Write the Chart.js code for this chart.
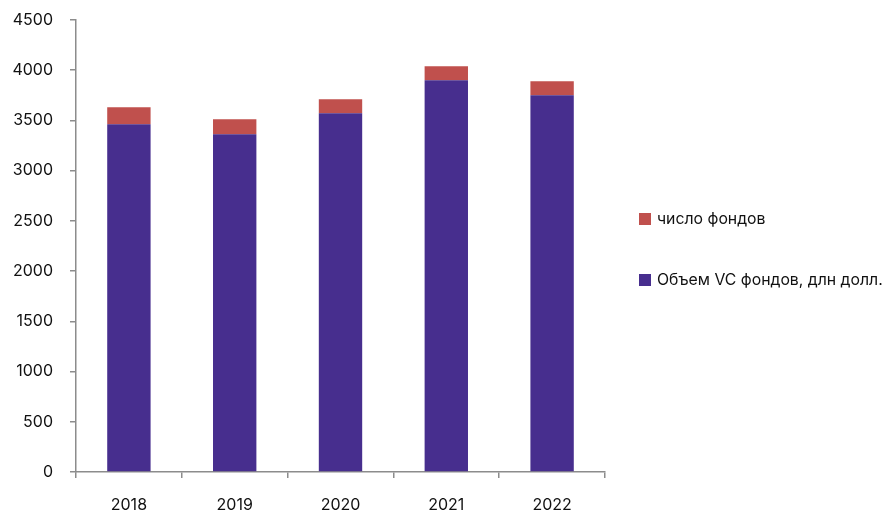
<!DOCTYPE html>
<html>
<head>
<meta charset="utf-8">
<script src="https://cdn.jsdelivr.net/npm/chart.js@4"></script>
<style>
  html, body { margin: 0; padding: 0; background: #fff; }
  #wrap { width: 885px; height: 510px; }
</style>
</head>
<body>
<div id="wrap"><canvas id="vcChart"></canvas></div>
<script>
const years = ['2018', '2019', '2020', '2021', '2022'];
const fundVolume = [3463, 3363, 3572, 3900, 3751]; // Объем VC фондов, длн долл.
const fundCount = [169, 149, 139, 140, 139];       // число фондов
const yMax = 4500;
const yStep = 500;

const fontFamily = 'Inter, "Liberation Sans", sans-serif';
const axisColor = '#8c8c8c';

// simple legend on the right, drawn from the dataset list (top item = last dataset)
const sideLegend = {
  id: 'sideLegend',
  afterDraw(chart) {
    const ctx = chart.ctx;
    const sets = chart.data.datasets.slice().reverse();
    ctx.save();
    ctx.font = '15.8px ' + fontFamily;
    ctx.textBaseline = 'middle';
    ctx.textAlign = 'left';
    sets.forEach((ds, i) => {
      const y = 213 + i * 61;
      ctx.fillStyle = ds.backgroundColor;
      ctx.fillRect(639, y, 12, 12);
      ctx.fillStyle = '#111';
      ctx.fillText(ds.label, 657, y + 6);
    });
    ctx.restore();
  }
};

const ctx = document.getElementById('vcChart').getContext('2d');
const vcChart = new Chart(ctx, {
  type: 'bar',
  data: {
    labels: years,
    datasets: [
      {
        label: 'Объем VC фондов, длн долл.',
        data: fundVolume,
        backgroundColor: '#472e8e'
      }, {
        label: 'число фондов',
        data: fundCount,
        backgroundColor: '#c0504d'
      }
    ]
  },
  options: {
    responsive: true,
    maintainAspectRatio: false,
    animation: false,
    layout: {
      padding: { top: 20, right: 280, bottom: 0, left: 0 }
    },
    plugins: {
      legend: { display: false },
      tooltip: { enabled: false }
    },
    datasets: {
      bar: { categoryPercentage: 1, barPercentage: 0.41 }
    },
    scales: {
      x: {
        stacked: true,
        border: { color: axisColor, width: 1.5 },
        grid: { drawOnChartArea: false, color: axisColor, tickLength: 6, lineWidth: 1.5 },
        ticks: { color: '#111', font: { family: fontFamily, size: 16 }, padding: 18 },
        afterFit: scale => {
          scale.height = 38;
          scale.paddingLeft = 0;
          scale.paddingRight = 0;
        }
      },
      y: {
        stacked: true,
        min: 0,
        max: yMax,
        border: { color: axisColor, width: 1.5 },
        grid: { drawOnChartArea: false, color: axisColor, tickLength: 6, lineWidth: 1.5 },
        ticks: {
          stepSize: yStep,
          color: '#111',
          font: { family: fontFamily, size: 16 },
          padding: 17,
          callback: v => String(v)
        },
        afterFit: scale => {
          scale.width = 76;
          scale.paddingTop = 0;
          scale.paddingBottom = 0;
        }
      }
    }
  },
  plugins: [sideLegend]
});
</script>
</body>
</html>
